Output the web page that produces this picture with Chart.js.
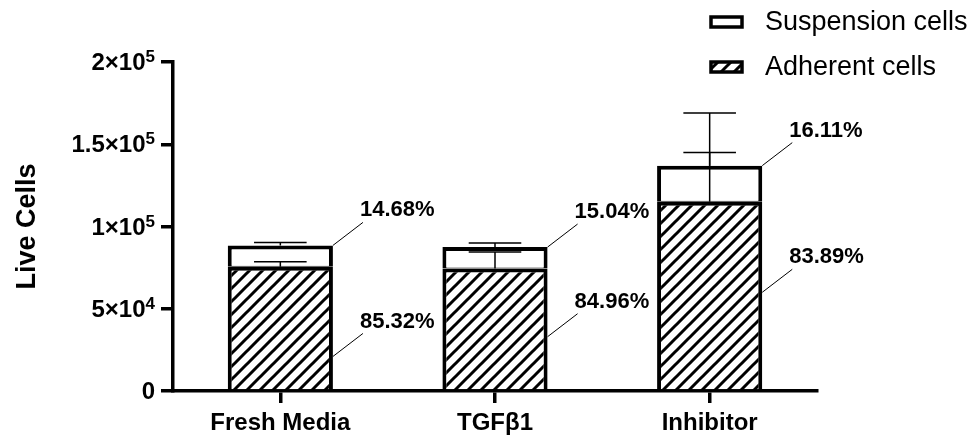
<!DOCTYPE html>
<html>
<head>
<meta charset="utf-8">
<script src="https://cdn.jsdelivr.net/npm/chart.js@4.4.1/dist/chart.umd.min.js"></script>
<style>
  html, body { margin: 0; padding: 0; background: #fff; }
  #wrap { width: 971px; height: 436px; }
</style>
</head>
<body>
<div id="wrap"><canvas id="chart" width="971" height="436"></canvas></div>
<script>
// Data
const categories = ['Fresh Media', 'TGF\u03B21', 'Inhibitor'];
const adherent = [75500, 74500, 115000];
const suspension = [13000, 13000, 22000];
const adherentErr = [3000, 10000, 30000];
const suspensionErr = [1700, 2500, 32000];
const suspensionPct = ['14.68%', '15.04%', '16.11%'];
const adherentPct = ['85.32%', '84.96%', '83.89%'];
const adherentPctAt = [21000, 33000, 60000]; // where the leader meets the bar
const yTicks = [0, 50000, 100000, 150000, 200000];
const yTickBase = ['0', '5\u00D710', '1\u00D710', '1.5\u00D710', '2\u00D710'];
const yTickExp = ['', '4', '5', '5', '5'];

const FONT = '"Liberation Sans", Arial, sans-serif';

// diagonal hatch
function makeHatch() {
  const s = 13;
  const c = document.createElement('canvas');
  c.width = s; c.height = s;
  const g = c.getContext('2d');
  g.fillStyle = '#fff';
  g.fillRect(0, 0, s, s);
  g.strokeStyle = '#000';
  g.lineWidth = 3;
  g.beginPath();
  g.moveTo(0, s); g.lineTo(s, 0);
  g.moveTo(-2, 2); g.lineTo(2, -2);
  g.moveTo(s - 2, s + 2); g.lineTo(s + 2, s - 2);
  g.stroke();
  return g.createPattern(c, 'repeat');
}
const hatch = makeHatch();

// error bars, percentage labels, y tick labels with exponents, legend
const extrasPlugin = {
  id: 'extras',
  afterDatasetsDraw(chart) {
    const ctx = chart.ctx;
    const y = chart.scales.y;
    const meta = chart.getDatasetMeta(1);
    ctx.save();
    ctx.strokeStyle = '#000';
    ctx.fillStyle = '#000';
    categories.forEach((c, i) => {
      const bar = meta.data[i];
      const x = bar.x;
      const half = bar.width * 0.25;
      const total = adherent[i] + suspension[i];
      const segs = [[adherent[i], adherentErr[i]], [total, suspensionErr[i]]];
      ctx.lineWidth = 1.5;
      segs.forEach(([v, e]) => {
        const y0 = y.getPixelForValue(v);
        const y1 = y.getPixelForValue(v + e);
        ctx.beginPath();
        ctx.moveTo(x, y0); ctx.lineTo(x, y1);
        ctx.moveTo(x - half, y1); ctx.lineTo(x + half, y1);
        ctx.stroke();
      });
      // leaders
      const right = x + bar.width / 2;
      const labels = [[total, suspensionPct[i]], [adherentPctAt[i], adherentPct[i]]];
      ctx.font = 'bold 22px ' + FONT;
      ctx.textAlign = 'left';
      ctx.textBaseline = 'middle';
      labels.forEach(([v, t]) => {
        const py = y.getPixelForValue(v);
        ctx.lineWidth = 1;
        ctx.beginPath();
        ctx.moveTo(right, py);
        ctx.lineTo(right + 30, py - 23);
        ctx.stroke();
        ctx.fillText(t, right + 27, py - 35);
      });
    });
    ctx.restore();
  },
  afterDraw(chart) {
    const ctx = chart.ctx;
    const y = chart.scales.y;
    ctx.save();
    ctx.fillStyle = '#000';
    ctx.textBaseline = 'alphabetic';
    ctx.textAlign = 'left';
    // y tick labels
    const xr = y.right - 18;
    yTicks.forEach((v, i) => {
      const py = y.getPixelForValue(v);
      ctx.font = 'bold 17px ' + FONT;
      const ew = yTickExp[i] ? ctx.measureText(yTickExp[i]).width : 0;
      ctx.font = 'bold 24px ' + FONT;
      const bw = ctx.measureText(yTickBase[i]).width;
      ctx.fillText(yTickBase[i], xr - ew - bw, py + 8);
      if (ew) {
        ctx.font = 'bold 17px ' + FONT;
        ctx.fillText(yTickExp[i], xr - ew, py);
      }
    });
    // legend, top right, suspension first
    const ds = chart.data.datasets.slice().reverse();
    ds.forEach((d, k) => {
      const cy = 22 + k * 45;
      ctx.fillStyle = d.backgroundColor;
      ctx.fillRect(711, cy - 5, 31, 10);
      ctx.lineWidth = 3.5;
      ctx.strokeStyle = '#000';
      ctx.strokeRect(711, cy - 5, 31, 10);
      ctx.fillStyle = '#000';
      ctx.font = '27px ' + FONT;
      ctx.textBaseline = 'middle';
      ctx.fillText(d.label, 765, cy + 1);
    });
    ctx.restore();
  }
};

new Chart(document.getElementById('chart'), {
  type: 'bar',
  data: {
    labels: categories,
    datasets: [
      {
        label: 'Adherent cells',
        data: adherent,
        backgroundColor: hatch,
        borderColor: '#000',
        borderWidth: { top: 4, left: 4, right: 4, bottom: 0 },
        borderSkipped: false
      },
      {
        label: 'Suspension cells',
        data: suspension,
        backgroundColor: '#fff',
        borderColor: '#000',
        borderWidth: { top: 4, left: 4, right: 4, bottom: 1 },
        borderSkipped: false
      }
    ]
  },
  options: {
    responsive: false,
    animation: false,
    maintainAspectRatio: false,
    layout: { padding: { top: 62, right: 154, left: 11, bottom: 0 } },
    datasets: { bar: { categoryPercentage: 1, barPercentage: 0.49 } },
    plugins: {
      legend: { display: false },
      tooltip: { enabled: false }
    },
    scales: {
      x: {
        stacked: true,
        afterFit(scale) { scale.height = 45; },
        grid: {
          display: true,
          drawOnChartArea: false,
          drawTicks: true,
          tickLength: 12,
          offset: false,
          color: '#000',
          lineWidth: 3.5
        },
        border: { display: true, color: '#000', width: 3.5 },
        ticks: {
          color: '#000',
          padding: 6,
          font: { family: FONT, size: 24, weight: 'bold' }
        }
      },
      y: {
        stacked: true,
        min: 0,
        max: 200000,
        afterFit(scale) { scale.width = 162; },
        afterBuildTicks(scale) { scale.ticks = yTicks.map(v => ({ value: v })); },
        grid: {
          display: true,
          drawOnChartArea: false,
          drawTicks: true,
          tickLength: 12,
          color: '#000',
          lineWidth: 3.5
        },
        border: { display: true, color: '#000', width: 3.5 },
        ticks: { display: false },
        title: {
          display: true,
          text: 'Live Cells',
          color: '#000',
          padding: 0,
          font: { family: FONT, size: 27, weight: 'bold' }
        }
      }
    }
  },
  plugins: [extrasPlugin]
});
</script>
</body>
</html>
